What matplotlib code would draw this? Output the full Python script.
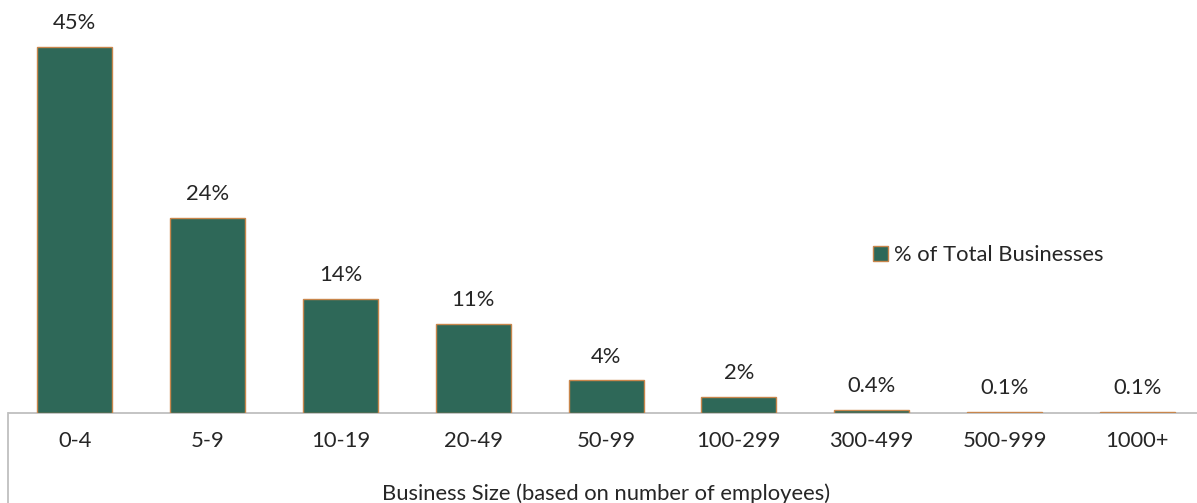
import matplotlib
matplotlib.use("Agg")
import matplotlib.pyplot as plt
from matplotlib.lines import Line2D

categories = ["0-4", "5-9", "10-19", "20-49", "50-99", "100-299", "300-499", "500-999", "1000+"]
share_pct = [45, 24, 14, 11, 4, 2, 0.4, 0.1, 0.1]
value_labels = ["45%", "24%", "14%", "11%", "4%", "2%", "0.4%", "0.1%", "0.1%"]
series_name = "% of Total Businesses"
x_title = "Business Size (based on number of employees)"

W, H = 1197, 503
DPI = 100
FILL = "#2E6858"
EDGE = "#C8864C"
TEXT = "#262626"
AXIS = "#BFBFBF"
FS = 15.8

plt.rcParams["font.family"] = ["Lato", "DejaVu Sans"]

fig = plt.figure(figsize=(W / DPI, H / DPI), dpi=DPI)

# axes geometry in pixels
left_px, base_px, band_px = 8.5, 413, 132.8
ax = fig.add_axes([left_px / W, (H - base_px) / H, 9 * band_px / W, base_px / H])

x = list(range(len(categories)))
bars = ax.bar(x, share_pct, width=0.565, color=FILL, edgecolor=EDGE, linewidth=1.0,
              label=series_name, zorder=2)
ax.bar_label(bars, labels=value_labels, padding=10, fontsize=FS, color=TEXT)

ax.set_xlim(-0.5, len(categories) - 0.5)
ax.set_ylim(0, 45 * base_px / (base_px - 47))
ax.set_yticks([])
ax.set_xticks(x)
ax.set_xticklabels(categories, fontsize=FS, color=TEXT)
ax.tick_params(axis="x", length=0, pad=13)
ax.set_xlabel(x_title, fontsize=FS, color=TEXT, labelpad=23)

for side in ("top", "right", "left"):
    ax.spines[side].set_visible(False)
ax.spines["bottom"].set_color(AXIS)
ax.spines["bottom"].set_linewidth(1.3)
ax.spines["bottom"].set_zorder(1)

# vertical frame line below the category axis on the left
fig.add_artist(Line2D([7.5 / W, 7.5 / W], [0, (H - base_px) / H],
                      transform=fig.transFigure, color=AXIS, linewidth=1.3))

leg = ax.legend(loc="center left", bbox_to_anchor=(873 / W, (H - 255) / H),
                bbox_transform=fig.transFigure, frameon=False, fontsize=FS,
                handlelength=0.7, handleheight=0.7, handletextpad=0.25,
                borderaxespad=0, borderpad=0)
for t in leg.get_texts():
    t.set_color(TEXT)

fig.savefig("out.png", dpi=DPI)
